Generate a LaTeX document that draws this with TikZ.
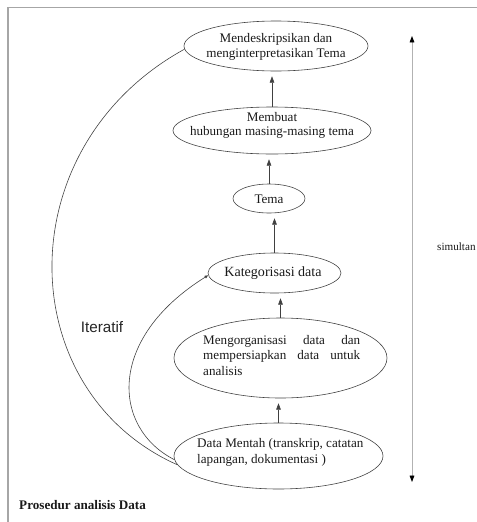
\documentclass[tikz,border=0pt]{standalone}
\usepackage{fontspec}
\setmainfont{Liberation Serif}
\newfontfamily\iterfont{Liberation Sans}
\usetikzlibrary{shapes.geometric,arrows.meta}
\hyphenpenalty=10000
\exhyphenpenalty=10000
\tikzset{
  stage/.style={ellipse,draw=black!75,line width=.5pt,inner sep=0pt},
  txt/.style={inner sep=0pt,align=center,text=black!90,font=\fontsize{11.2}{12.5}\selectfont},
  flow/.style={draw=black!75,line width=.5pt,-{Triangle[width=4pt,length=5.5pt]},shorten >=.15cm},
  loopback/.style={draw=black!75,line width=.5pt},
  span/.style={draw=gray!60,line width=.7pt,{Triangle[black,width=4pt,length=5.5pt]}-{Triangle[black,width=4pt,length=5.5pt]}}
}
\begin{document}
\begin{tikzpicture}[x=0.03cm,y=-0.03cm]
\useasboundingbox (0,0) rectangle (477,522);
\draw[gray!70,line width=1.2pt] (477,7.5)--(8,7.5)--(8,522);
\node[stage,minimum width=5.52cm,minimum height=1.5cm] (desc) at (276,46) {};
\node[txt] (desct) at (276,47) {Mendeskripsikan dan\\menginterpretasikan Tema};
\node[stage,minimum width=5.94cm,minimum height=1.41cm] (relate) at (272,130.5) {};
\node[txt] (relatet) at (272,125.5) {Membuat\\hubungan masing-masing tema};
\node[stage,minimum width=2.16cm,minimum height=.87cm] (theme) at (269,198.5) {};
\node[txt] (themet) at (269,199) {Tema};
\node[stage,minimum width=3.99cm,minimum height=1.2cm] (categ) at (274.5,273) {};
\node[txt,font=\fontsize{12}{14}\selectfont] (categt) at (273,273) {Kategorisasi data};
\node[stage,minimum width=6.39cm,minimum height=2.4cm] (organ) at (280.5,358) {};
\node[txt,anchor=west,text width=4.71cm,align=justify,font=\fontsize{11.2}{13.2}\selectfont] (organt) at (203,355.5) {Mengorganisasi data dan mempersiapkan data untuk analisis};
\node[stage,minimum width=6.27cm,minimum height=1.98cm] (raw) at (278.5,456) {};
\node[txt,anchor=west,align=left,font=\fontsize{11.2}{14}\selectfont] (rawt) at (197,452.5) {Data Mentah (transkrip, catatan\\lapangan, dokumentasi )};
\draw[flow] (relate.north) -- (relate.north |- desc.south);
\draw[flow] (theme.north) -- (theme.north |- relate.south);
\draw[flow] (categ.north) -- (categ.north |- theme.south);
\draw[flow] (organ.north) -- (organ.north |- categ.south);
\draw[flow] (raw.north) -- (raw.north |- organ.south);
\draw[loopback] (raw.185) .. controls +(-166,-74) and +(-178,98) .. (desc.182);
\draw[loopback,-{Triangle[width=2.5pt,length=3pt]}] (raw.182) .. controls +(-62,-31.5) and +(-102,63.6) .. (categ.182);
\node[inner sep=0pt,text=black!85,font=\iterfont\fontsize{13}{15}\selectfont] (iter) at (102,327) {Iteratif};
\coordinate (simtop) at (412,36);
\coordinate (simbot) at (412,482);
\draw[span] (simbot) -- (simtop);
\node[txt,anchor=west,font=\fontsize{9.5}{11}\selectfont] (simul) at (437,247) {simultan};
\node[txt,anchor=west,font=\bfseries\fontsize{11.2}{13}\selectfont] (caption) at (19,505) {Prosedur analisis Data};
\end{tikzpicture}
\end{document}
